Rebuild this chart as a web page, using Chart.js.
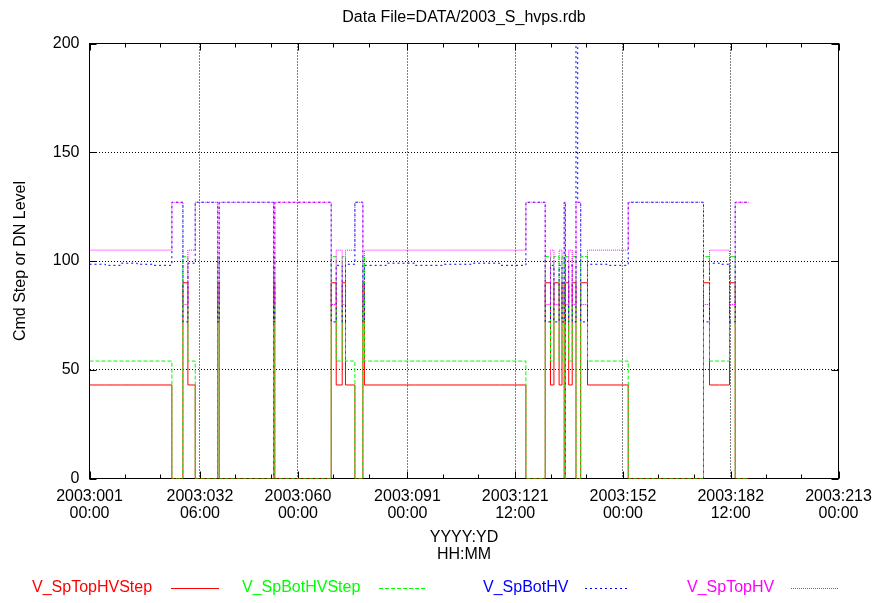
<!DOCTYPE html>
<html lang="en">
<head>
    <meta charset="UTF-8">
    <title>Data File=DATA/2003_S_hvps.rdb</title>
    <script src="https://cdn.jsdelivr.net/npm/chart.js@4.4.1/dist/chart.umd.min.js"></script>
    <style>
        body {
            margin: 0;
            background-color: #fff;
        }
        .chart-box {
            width: 875px;
            height: 603px;
            position: relative;
        }
    </style>
</head>
<body>
    <div class="chart-box">
        <canvas id="hvpsChart"></canvas>
    </div>

    <script>
        const FONT = '"Liberation Sans", Arial, Helvetica, sans-serif';

        // sample times in days after 2003:001 00:00 (each value holds until the next time)
        const days = [0, 4.5, 9, 13.5, 18, 23.32, 26.44, 27.85, 29.92, 36.29,
            36.71, 52.08, 52.45, 68.41, 69.83, 71.53, 72.46, 75.12, 77.38, 77.81,
            84, 92, 100, 108, 116, 123.52, 128.98, 130.48, 131.45, 132.92,
            133.74, 134.36, 134.73, 135.64, 136.63, 137.70, 138.18, 139.03, 140.96, 146.5,
            152.48, 173.79, 175.49, 178.3, 181.15, 182.76, 186.53];

        const topStep = [43, 43, 43, 43, 43, 0, 90, 43, 0, 90,
            0, 90, 0, 90, 43, 90, 43, 0, 90, 43,
            43, 43, 43, 43, 43, 0, 90, 43, 90, 43,
            90, 0, 90, 43, 90, 0, 0, 90, 43, 43,
            0, 90, 43, 43, 90, 0, 0];

        const botStep = [54, 54, 54, 54, 54, 0, 102, 54, 0, 102,
            0, 102, 0, 102, 54, 102, 54, 0, 102, 54,
            54, 54, 54, 54, 54, 0, 102, 54, 102, 54,
            102, 0, 102, 54, 102, 0, 0, 102, 54, 54,
            0, 102, 54, 54, 102, 0, 0];

        const botHV = [98.5, 98, 99, 98.5, 98, 127, 72, 99, 127, 72,
            127, 72, 127, 72, 98, 72, 98.5, 127, 72, 98,
            99, 98, 98.5, 99, 98, 127, 72, 98, 72, 98,
            72, 127, 72, 98, 72, 200, 127, 72, 98.5, 98,
            127, 72, 99, 98.5, 72, 127, 127];

        const topHV = [105, 105, 105, 105, 105, 127, 80, 105, 127, 80,
            127, 80, 127, 80, 105, 80, 105, 127, 80, 105,
            105, 105, 105, 105, 105, 127, 80, 105, 80, 105,
            80, 127, 80, 105, 80, 127, 127, 80, 105, 105,
            127, 80, 105, 105, 80, 127, 127];

        // axis ticks
        const majorDays = [0, 31.25, 59, 90, 120.5, 151, 181.5, 212];
        const tickDates = ['2003:001', '2003:032', '2003:060', '2003:091', '2003:121', '2003:152', '2003:182', '2003:213'];
        const tickTimes = ['00:00', '06:00', '00:00', '00:00', '12:00', '00:00', '12:00', '00:00'];
        const yTicks = [0, 50, 100, 150, 200];

        const seriesNames = ['V_SpTopHVStep', 'V_SpBotHVStep', 'V_SpBotHV', 'V_SpTopHV'];
        const seriesValues = [topStep, botStep, botHV, topHV];
        const seriesColors = ['#ff0000', '#00ff00', '#0000ff', '#ff00ff'];
        const seriesDash = [[], [4, 2], [2, 3], [1, 1]];

        // legend layout: text start x, sample line start / end x
        const legendText = [32, 242, 483, 687];
        const legendLine = [[171, 219], [379, 426], [585, 629], [791, 838]];

        const datasets = seriesValues.map((vals, i) => ({
            label: seriesNames[i],
            data: days.map((d, k) => ({ x: d, y: vals[k] })),
            borderColor: seriesColors[i],
            borderWidth: 1,
            borderDash: seriesDash[i],
            pointRadius: 0,
            stepped: 'before', // hold each value until the next sample time
            fill: false,
            order: 4 - i // magenta drawn last, on top
        }));

        const gnuplotFrame = {
            id: 'gnuplotFrame',
            beforeDatasetsDraw(chart) {
                const { ctx, chartArea: a, scales: { x, y } } = chart;
                ctx.save();
                ctx.strokeStyle = '#000';
                ctx.lineWidth = 1;
                ctx.setLineDash([]);
                ctx.strokeRect(a.left, a.top, a.right - a.left, a.bottom - a.top);
                ctx.beginPath();
                majorDays.forEach((d, i) => {
                    const px = Math.round(x.getPixelForValue(d)) + 0.5;
                    ctx.moveTo(px, a.bottom); ctx.lineTo(px, a.bottom - 7);
                    ctx.moveTo(px, a.top); ctx.lineTo(px, a.top + 7);
                    if (i < majorDays.length - 1) {
                        for (let m = d + 10; m < majorDays[i + 1] - 3; m += 10) {
                            const mx = Math.round(x.getPixelForValue(m)) + 0.5;
                            ctx.moveTo(mx, a.bottom); ctx.lineTo(mx, a.bottom - 4);
                            ctx.moveTo(mx, a.top); ctx.lineTo(mx, a.top + 4);
                        }
                    }
                });
                yTicks.forEach(v => {
                    const py = Math.round(y.getPixelForValue(v)) + 0.5;
                    ctx.moveTo(a.left, py); ctx.lineTo(a.left + 7, py);
                    ctx.moveTo(a.right, py); ctx.lineTo(a.right - 7, py);
                });
                ctx.stroke();
                ctx.restore();
            },
            afterDraw(chart) {
                const { ctx, chartArea: a } = chart;
                ctx.save();
                ctx.font = '16px ' + FONT;
                ctx.textBaseline = 'middle';
                ctx.fillStyle = '#000';
                ctx.textAlign = 'center';
                ctx.fillText('Data File=DATA/2003_S_hvps.rdb', (a.left + a.right) / 2, 18);

                ctx.textAlign = 'left';
                seriesNames.forEach((name, i) => {
                    ctx.fillStyle = seriesColors[i];
                    ctx.fillText(name, legendText[i], 588);
                    ctx.strokeStyle = seriesColors[i];
                    ctx.lineWidth = 1;
                    ctx.setLineDash(seriesDash[i]);
                    ctx.beginPath();
                    ctx.moveTo(legendLine[i][0], 588.5);
                    ctx.lineTo(legendLine[i][1], 588.5);
                    ctx.stroke();
                });
                ctx.restore();
            }
        };

        const ctx = document.getElementById('hvpsChart').getContext('2d');
        new Chart(ctx, {
            type: 'line',
            data: { datasets: datasets },
            options: {
                responsive: true,
                maintainAspectRatio: false,
                animation: false,
                layout: {
                    padding: { top: 43.5, right: 36.5, bottom: 0, left: 0 }
                },
                plugins: {
                    legend: { display: false },
                    title: { display: false },
                    tooltip: { enabled: false }
                },
                scales: {
                    x: {
                        type: 'linear',
                        min: 0,
                        max: 212,
                        afterBuildTicks: s => { s.ticks = majorDays.map(v => ({ value: v })); },
                        afterFit: s => {
                            s.height = 124.5;
                            s.paddingLeft = 0;
                            s.paddingRight = 0; // last label fits in the layout padding
                        },
                        grid: { color: '#000', lineWidth: 1, drawTicks: false },
                        border: { display: false, dash: [1, 2] },
                        ticks: {
                            autoSkip: false,
                            maxRotation: 0,
                            padding: 10,
                            color: '#000',
                            font: { family: FONT, size: 16, lineHeight: 1.05 },
                            callback: (v, i) => [tickDates[i], tickTimes[i]]
                        },
                        title: {
                            display: true,
                            text: ['YYYY:YD', 'HH:MM'],
                            color: '#000',
                            font: { family: FONT, size: 16, lineHeight: 1.05 },
                            padding: { top: 0, bottom: 40 }
                        }
                    },
                    y: {
                        min: 0,
                        max: 200,
                        afterBuildTicks: s => { s.ticks = yTicks.map(v => ({ value: v })); },
                        afterFit: s => { s.width = 89.5; },
                        grid: { color: '#000', lineWidth: 1, drawTicks: false },
                        border: { display: false, dash: [1, 2] },
                        ticks: {
                            padding: 10,
                            color: '#000',
                            font: { family: FONT, size: 16 }
                        },
                        title: {
                            display: true,
                            text: 'Cmd Step or DN Level',
                            color: '#000',
                            font: { family: FONT, size: 16 },
                            padding: { top: 11, bottom: 0 }
                        }
                    }
                }
            },
            plugins: [gnuplotFrame]
        });
    </script>
</body>
</html>
